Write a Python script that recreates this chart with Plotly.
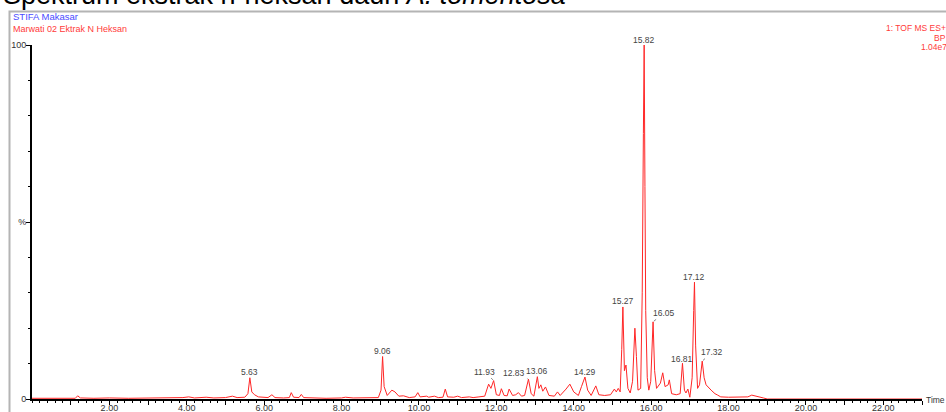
import plotly.graph_objects as go

# Base peak chromatogram (TOF MS ES+, BPI), retention time in minutes vs relative intensity (%)
rt_min = [
    0.00, 0.50, 1.00, 1.12, 1.18, 1.25, 1.60, 2.00, 2.50, 3.00, 3.50, 3.90, 4.05, 4.20,
    4.50, 4.70, 5.00, 5.18, 5.30, 5.50, 5.58, 5.63, 5.68, 5.75, 5.85, 6.10, 6.20, 6.28,
    6.50, 6.65, 6.70, 6.76, 6.90, 6.96, 7.02, 7.30, 7.60, 8.00, 8.10, 8.30, 8.60, 8.95,
    9.02, 9.06, 9.10, 9.18, 9.30, 9.38, 9.48, 9.60, 9.75, 9.90, 9.97, 10.03, 10.20, 10.25,
    10.40, 10.50, 10.62, 10.68, 10.74, 10.90, 11.00, 11.10, 11.30, 11.40, 11.55, 11.70,
    11.80, 11.86, 11.93, 12.00, 12.08, 12.13, 12.20, 12.28, 12.33, 12.42, 12.50, 12.57,
    12.65, 12.73, 12.83, 12.90, 12.97, 13.06, 13.10, 13.15, 13.20, 13.27, 13.36, 13.50,
    13.58, 13.65, 13.80, 13.90, 14.00, 14.12, 14.20, 14.29, 14.36, 14.45, 14.57, 14.65,
    14.80, 14.95, 15.05, 15.10, 15.15, 15.20, 15.24, 15.27, 15.31, 15.35, 15.40, 15.46,
    15.52, 15.58, 15.62, 15.66, 15.73, 15.77, 15.80, 15.82, 15.84, 15.86, 15.90, 15.94,
    15.99, 16.05, 16.09, 16.14, 16.24, 16.30, 16.36, 16.44, 16.47, 16.53, 16.65, 16.75,
    16.81, 16.86, 16.90, 16.95, 17.00, 17.06, 17.10, 17.12, 17.15, 17.20, 17.25, 17.32,
    17.37, 17.42, 17.55, 17.65, 17.72, 17.80, 18.00, 18.30, 18.50, 18.60, 18.75, 18.90,
    19.00, 23.00,
]
intensity_pct = [
    0.2, 0.2, 0.3, 0.2, 0.9, 0.3, 0.2, 0.3, 0.2, 0.2, 0.3, 0.4, 0.6, 0.3,
    0.5, 0.3, 0.4, 0.8, 0.4, 0.5, 1.5, 6.0, 2.0, 1.2, 0.6, 0.4, 1.2, 0.4,
    0.3, 0.4, 1.8, 0.5, 0.4, 1.3, 0.4, 0.3, 0.2, 0.3, 0.5, 0.3, 0.3, 0.4,
    2.5, 12.0, 3.5, 1.0, 2.5, 2.0, 0.8, 0.9, 0.4, 0.6, 1.8, 0.6, 0.8, 0.5,
    0.8, 0.4, 0.5, 2.8, 0.6, 0.5, 0.8, 0.4, 0.6, 0.4, 0.6, 0.8,
    4.2, 3.0, 5.2, 1.2, 1.0, 2.9, 1.0, 0.9, 2.8, 1.0, 1.2, 1.8,
    0.8, 1.0, 5.6, 1.5, 0.8, 6.3, 3.0, 4.0, 2.2, 3.4, 1.0, 0.8,
    2.0, 1.0, 2.8, 4.2, 2.0, 1.0, 3.5, 6.2, 2.5, 1.0, 3.7, 1.2,
    1.0, 1.2, 2.8, 2.0, 3.0, 2.0, 14.0, 26.0, 8.0, 9.6, 3.0, 1.7,
    5.0, 20.0, 12.0, 2.5, 3.0, 30.0, 75.0, 100.0, 60.0, 25.0, 6.0, 2.5,
    5.0, 21.8, 8.0, 3.0, 4.5, 7.4, 3.5, 4.0, 5.4, 1.5, 1.2, 1.5,
    10.1, 2.5, 1.7, 2.8, 0.5, 6.0, 25.0, 33.0, 15.0, 3.0, 4.0, 10.7,
    6.0, 4.0, 2.5, 1.5, 1.1, 0.6, 0.5, 0.5, 0.6, 1.1, 0.6, 0.3,
    0.0, 0.0,
]

# Retention times annotated on the chromatogram
peak_labels = [5.63, 9.06, 11.93, 12.83, 13.06, 14.29, 15.27, 15.82, 16.05, 16.81, 17.12, 17.32]

# Axis tick values
x_tick_vals = list(range(1, 24))
x_tick_text = [f"{v:.2f}" if v % 2 == 0 else "" for v in x_tick_vals]
y_tick_vals = [0, 50, 100]
y_tick_text = ["0", "%", "100"]

W, H = 946, 412
ML, MR, MT, MB = 32, 24, 45, 13
PW, PH = W - ML - MR, H - MT - MB


def px_x(px):
    return (px - ML) / PW


def px_y(py):
    return (H - MB - py) / PH


fig = go.Figure()
fig.add_trace(go.Scatter(
    x=rt_min, y=intensity_pct, mode="lines",
    line=dict(color="#ff2626", width=1),
    hoverinfo="skip", cliponaxis=False, showlegend=False,
))

label_font = dict(family="Liberation Sans, Arial, sans-serif", size=8.5, color="#444444")
# labels offset from their peak with a short leader line (pixel offsets)
leader = {11.93: (-9, -9), 12.83: (-14, -6), 16.05: (11, -9), 17.32: (10, -9)}
annotations = []
for rt in peak_labels:
    h = intensity_pct[rt_min.index(rt)]
    text = f"{rt:.2f}"
    if rt in leader:
        ax, ay = leader[rt]
        annotations.append(dict(
            x=rt, y=h, xref="x", yref="y", text=text, font=label_font,
            showarrow=True, arrowhead=0, arrowwidth=0.8, arrowcolor="#666666",
            ax=ax, ay=ay, standoff=1,
        ))
    else:
        yshift = 4 if rt == 16.81 else 5.5
        annotations.append(dict(
            x=rt, y=h, xref="x", yref="y", text=text, font=label_font,
            showarrow=False, yanchor="middle", yshift=yshift,
        ))

hdr = "Liberation Sans, Arial, sans-serif"
# header texts
annotations += [
    dict(x=px_x(1), y=px_y(-5), xref="paper", yref="paper", xanchor="left", yanchor="middle",
         text="Spektrum ekstrak n-heksan daun <i>A. tomentosa</i>", showarrow=False,
         font=dict(family=hdr, size=27, color="#000000")),
    dict(x=px_x(11), y=px_y(16.5), xref="paper", yref="paper", xanchor="left", yanchor="middle",
         text="STIFA Makasar", showarrow=False,
         font=dict(family=hdr, size=9.5, color="#4a4aff")),
    dict(x=px_x(11), y=px_y(29), xref="paper", yref="paper", xanchor="left", yanchor="middle",
         text="Marwati 02 Ektrak N Heksan", showarrow=False,
         font=dict(family=hdr, size=9, color="#ff3a3a")),
    dict(x=px_x(948), y=px_y(28), xref="paper", yref="paper", xanchor="right", yanchor="middle",
         text="1: TOF MS ES+", showarrow=False,
         font=dict(family=hdr, size=8.5, color="#ff3a3a")),
    dict(x=px_x(948), y=px_y(37.5), xref="paper", yref="paper", xanchor="right", yanchor="middle",
         text="BP", showarrow=False,
         font=dict(family=hdr, size=8.5, color="#ff3a3a")),
    dict(x=px_x(949), y=px_y(47), xref="paper", yref="paper", xanchor="right", yanchor="middle",
         text="1.04e7", showarrow=False,
         font=dict(family=hdr, size=8.5, color="#ff3a3a")),
    dict(x=px_x(924), y=px_y(400), xref="paper", yref="paper", xanchor="left", yanchor="middle",
         text="Time", showarrow=False,
         font=dict(family=hdr, size=8.5, color="#333333")),
]

# light grey frame around the chart panel
shapes = [dict(type="rect", xref="paper", yref="paper",
               x0=px_x(9.5), x1=px_x(960), y0=px_y(11.5), y1=px_y(430),
               line=dict(color="#b4b4b4", width=2), fillcolor="rgba(0,0,0,0)", layer="below")]

tick_font = dict(family=hdr, size=9, color="#333333")
fig.update_layout(
    width=W, height=H,
    margin=dict(l=ML, r=MR, t=MT, b=MB, pad=0, autoexpand=False),
    paper_bgcolor="white", plot_bgcolor="white",
    annotations=annotations, shapes=shapes,
    xaxis=dict(
        range=[0, 23.0], showline=True, linecolor="black", linewidth=1.5,
        ticks="outside", ticklen=4, tickcolor="black", tickwidth=1,
        tickvals=x_tick_vals, ticktext=x_tick_text, tickfont=tick_font,
        ticklabelstandoff=-5,
        showgrid=False, zeroline=False, automargin=False,
        minor=dict(dtick=0.2, tick0=0, ticks="outside", ticklen=2, tickcolor="black", showgrid=False),
    ),
    yaxis=dict(
        range=[0, 100], showline=True, linecolor="black", linewidth=2,
        ticks="outside", ticklen=4, tickcolor="black", tickwidth=1,
        tickvals=y_tick_vals, ticktext=y_tick_text, tickfont=tick_font,
        ticklabelstandoff=-2,
        showgrid=False, zeroline=False, automargin=False,
        minor=dict(dtick=10, tick0=0, ticks="outside", ticklen=2, tickcolor="black", showgrid=False),
    ),
)

fig.write_html("out.html")
